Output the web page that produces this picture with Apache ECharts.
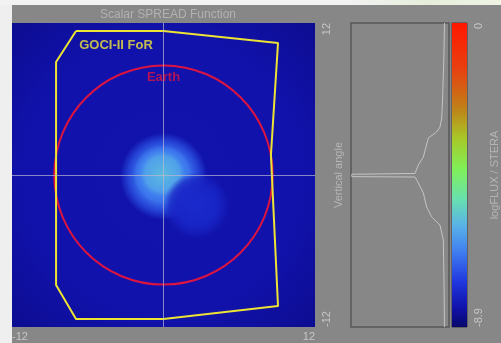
<!DOCTYPE html>
<html>
<head>
<meta charset="utf-8">
<script src="https://cdn.jsdelivr.net/npm/echarts@6/dist/echarts.min.js"></script>
<style>
  html, body { margin: 0; padding: 0; width: 501px; height: 343px; overflow: hidden; background: #efefef; }
  #strip { position: absolute; left: 0; top: 0; width: 501px; height: 5px;
           background: linear-gradient(90deg, #f2f2f2 0%, #f2f2f2 70%, #e6eedb 85%, #eef3e4 100%); }
  #panel { position: absolute; left: 12px; top: 5px; width: 489px; height: 338px; background: #878787; }
  #chart { position: absolute; left: 0; top: 0; width: 501px; height: 343px; }
</style>
</head>
<body>
<div id="strip"></div>
<div id="panel"></div>
<div id="chart"></div>
<script>
// Angular extent of the field (degrees) and the logFLUX scale
const angleTicks = [-12, 12];
const fluxRange = [-8.9, 0];

// GOCI-II field of regard outline, [horizontal, vertical] in degrees
const forX = [-6.93, 0, 9.07, 8.51, 9.07, 0, -6.93, -8.51, -8.51, -6.93];
const forY = [11.37, 11.37, 10.42, 1.58, -10.34, -11.37, -11.37, -8.68, 8.92, 11.37];

// Earth disc seen from geostationary orbit
const earthCenter = [0, 0];
const earthRadius = 8.65;

// Spread-function lobes: centre (deg), extent (deg), peak logFLUX
const lobeX = [0.0, -0.1, 2.6];
const lobeY = [-0.1, 0.1, -2.4];
const lobeRadius = [3.45, 2.3, 2.6];
const lobeLevel = [-6.55, -5.8, -7.85];
const backgroundLevel = -8.3;

// Vertical profile through the centre: relative level vs. vertical angle
const profileLevel = [9.54, 9.47, 9.34, 9.26, 9.08, 8.74, 7.89, 7.65, 7.38, 6.87, 6.53, 0.08,
                      0.08, 6.53, 6.87, 7.38, 7.72, 8.23, 9.08, 9.42, 9.49, 9.54];
const profileAngle = [12.0, 9.08, 5.92, 4.5, 3.79, 3.39, 2.92, 2.21, 1.42, 0.79, 0.12, 0.06,
                      -0.13, -0.16, -0.63, -1.42, -2.53, -3.31, -3.95, -5.13, -8.29, -12.0];

// Colour ramp of the logFLUX scale, bottom (low) to top (high)
const ramp = ['#08086a', '#1010a8', '#2038e0', '#4080f0', '#58b0e8', '#68e0b0',
              '#80f058', '#a8c828', '#c08018', '#e84010', '#ff1800'];
const rampPos = [0, 0.06, 0.15, 0.25, 0.33, 0.42, 0.52, 0.62, 0.72, 0.85, 1];

function rampColor(v) {
  let t = (v - fluxRange[0]) / (fluxRange[1] - fluxRange[0]);
  t = Math.max(0, Math.min(1, t));
  for (let i = 1; i < rampPos.length; i++) {
    if (t <= rampPos[i]) {
      const f = (t - rampPos[i - 1]) / (rampPos[i] - rampPos[i - 1]);
      return echarts.color.lerp(f, [ramp[i - 1], ramp[i]]);
    }
  }
  return ramp[ramp.length - 1];
}

const FONT = "'Liberation Sans', Arial, sans-serif";
const labelGrey = '#c6c6c6';

const chart = echarts.init(document.getElementById('chart'), null, { renderer: 'canvas' });

const forData = forX.map((x, i) => [x, forY[i]]);
const lobeData = lobeX.map((x, i) => [x, lobeY[i], lobeRadius[i], lobeLevel[i]]);
const profileData = profileLevel.map((v, i) => [v, profileAngle[i]]);

chart.setOption({
  animation: false,
  title: {
    text: 'Scalar SPREAD Function',
    left: 163, top: 4, textAlign: 'center',
    textStyle: { color: '#b2b2b2', fontSize: 12, fontWeight: 'normal', fontFamily: FONT }
  },
  grid: [
    { left: 12, top: 23, width: 303, height: 304, show: true, borderWidth: 0,
      backgroundColor: new echarts.graphic.RadialGradient(0.5, 0.5, 0.75, [
        { offset: 0, color: rampColor(backgroundLevel) },
        { offset: 0.6, color: rampColor(backgroundLevel - 0.03) },
        { offset: 1, color: rampColor(backgroundLevel - 0.3) }
      ]) },
    { left: 351, top: 23, width: 98, height: 304, show: true,
      borderColor: '#585858', borderWidth: 1.5, backgroundColor: 'transparent' },
    { left: 452, top: 23, width: 24, height: 304, show: true,
      borderColor: '#3c3c3c', borderWidth: 1, backgroundColor: 'transparent' }
  ],
  xAxis: [
    { gridIndex: 0, type: 'value', min: angleTicks[0], max: angleTicks[1], interval: 24,
      axisLine: { show: false }, axisTick: { show: false }, splitLine: { show: false },
      axisLabel: { color: labelGrey, fontSize: 11, fontFamily: FONT, margin: 4,
                   alignMinLabel: 'left', alignMaxLabel: 'right' } },
    { gridIndex: 1, type: 'value', min: 0, max: 10, show: false },
    { gridIndex: 2, type: 'value', min: 0, max: 1, show: false }
  ],
  yAxis: [
    { gridIndex: 0, type: 'value', position: 'right', min: angleTicks[0], max: angleTicks[1], interval: 24,
      axisLine: { show: false }, axisTick: { show: false }, splitLine: { show: false },
      axisLabel: { color: labelGrey, fontSize: 11, fontFamily: FONT, margin: 6, rotate: 90,
                   alignMinLabel: 'left', alignMaxLabel: 'right' },
      name: 'Vertical angle', nameLocation: 'middle', nameRotate: 90, nameGap: 18,
      nameMoveOverlap: false,
      nameTextStyle: { color: '#b6b6b6', fontSize: 11, fontFamily: FONT } },
    { gridIndex: 1, type: 'value', min: angleTicks[0], max: angleTicks[1], show: false },
    { gridIndex: 2, type: 'value', position: 'right', min: fluxRange[0], max: fluxRange[1], interval: 8.9,
      axisLine: { show: false }, axisTick: { show: false }, splitLine: { show: false },
      axisLabel: { color: labelGrey, fontSize: 11, fontFamily: FONT, margin: 6, rotate: 90,
                   alignMinLabel: 'left', alignMaxLabel: 'right' },
      name: 'logFLUX / STERA', nameLocation: 'middle', nameRotate: 90, nameGap: 22,
      nameMoveOverlap: false,
      nameTextStyle: { color: '#b6b6b6', fontSize: 11, fontFamily: FONT } }
  ],
  series: [
    // spread-function lobes, each fading from its peak towards the background level
    { type: 'custom', xAxisIndex: 0, yAxisIndex: 0, clip: true, z: 1,
      data: lobeData,
      renderItem(params, api) {
        const c = api.coord([api.value(0), api.value(1)]);
        const r = api.size([api.value(2), 0])[0];
        const lv = api.value(3);
        const drop = lv - backgroundLevel;
        const top = rampColor(lv);
        const mid = rampColor(lv - drop * 0.15);
        const edge = rampColor(lv - drop * 0.35);
        return {
          type: 'circle',
          shape: { cx: c[0], cy: c[1], r: r },
          style: { fill: new echarts.graphic.RadialGradient(0.5, 0.5, 0.5, [
            { offset: 0, color: top },
            { offset: 0.6, color: echarts.color.modifyAlpha(mid, 0.95) },
            { offset: 0.8, color: echarts.color.modifyAlpha(edge, 0.7) },
            { offset: 1, color: echarts.color.modifyAlpha(edge, 0) }
          ]) }
        };
      } },
    // centre crosshair
    { type: 'line', xAxisIndex: 0, yAxisIndex: 0, data: [], z: 2, silent: true,
      markLine: { silent: true, symbol: 'none', label: { show: false },
        lineStyle: { color: 'rgba(185,185,205,0.7)', width: 1, type: 'solid' },
        data: [{ xAxis: 0 }, { yAxis: 0 }] } },
    // Earth disc outline
    { type: 'custom', xAxisIndex: 0, yAxisIndex: 0, clip: true, z: 3,
      data: [[earthCenter[0], earthCenter[1], earthRadius]],
      renderItem(params, api) {
        const c = api.coord([api.value(0), api.value(1)]);
        const s = api.size([api.value(2), api.value(2)]);
        return {
          type: 'ellipse',
          shape: { cx: c[0], cy: c[1], rx: s[0], ry: s[1] },
          style: { fill: 'none', stroke: '#dc1440', lineWidth: 2 }
        };
      } },
    // field of regard outline
    { type: 'line', xAxisIndex: 0, yAxisIndex: 0, data: forData, z: 4,
      symbol: 'none', lineStyle: { color: '#ede334', width: 2 }, silent: true },
    // labels
    { type: 'scatter', xAxisIndex: 0, yAxisIndex: 0, z: 5, symbolSize: 0, silent: true,
      data: [
        { value: [-3.76, 10.26], label: { formatter: 'GOCI-II FoR', color: '#f0e638' } },
        { value: [0, 7.74], label: { formatter: 'Earth', color: '#dc1440' } }
      ],
      label: { show: true, position: 'inside', fontSize: 13, fontWeight: 'bold', fontFamily: FONT } },
    // vertical profile
    { type: 'line', xAxisIndex: 1, yAxisIndex: 1, data: profileData, symbol: 'none',
      lineStyle: { color: '#c4c4c4', width: 1 }, silent: true },
    // colour scale
    { type: 'custom', xAxisIndex: 2, yAxisIndex: 2, silent: true,
      data: [[0, fluxRange[0], 1, fluxRange[1]]],
      renderItem(params, api) {
        const p0 = api.coord([api.value(0), api.value(3)]);
        const p1 = api.coord([api.value(2), api.value(1)]);
        const stops = ramp.map((c, i) => ({ offset: 1 - rampPos[i], color: c })).reverse();
        return {
          type: 'rect',
          shape: { x: p0[0], y: p0[1], width: p1[0] - p0[0], height: p1[1] - p0[1] },
          style: { fill: new echarts.graphic.LinearGradient(0, 0, 0, 1, stops) }
        };
      } }
  ]
});
</script>
</body>
</html>
